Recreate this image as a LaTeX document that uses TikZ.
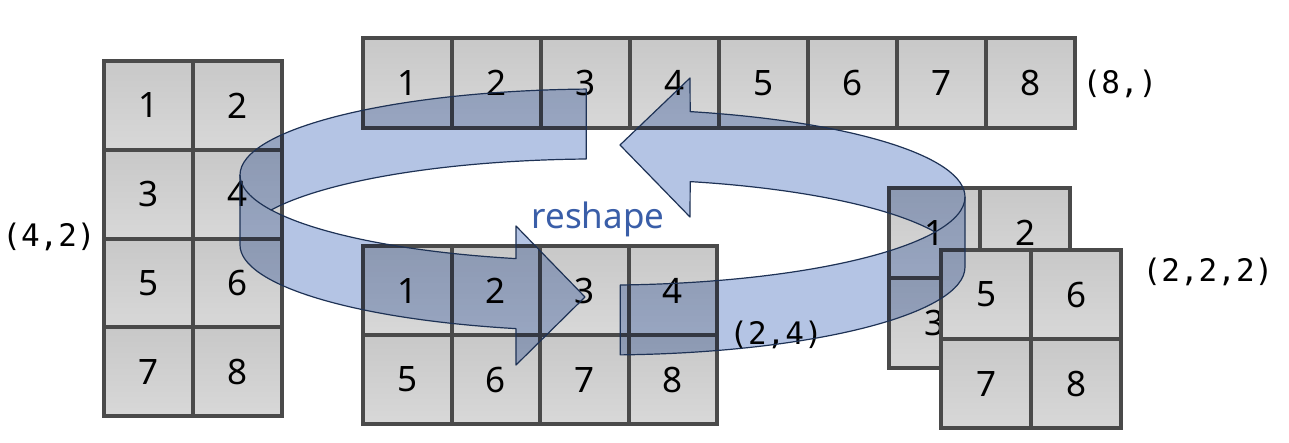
\documentclass[tikz,border=0pt]{standalone}
\usepackage{fontspec}
\setmainfont{Noto Sans}
\newfontfamily\labelfont{DejaVu Sans Mono}
\definecolor{cellborder}{RGB}{74,74,74}
\definecolor{celltop}{RGB}{200,200,200}
\definecolor{cellbot}{RGB}{216,216,216}
\definecolor{ribbon}{RGB}{180,196,228}
\definecolor{ribbonedge}{RGB}{30,50,85}
\definecolor{reshapeblue}{RGB}{58,94,168}
\newcommand\ribbonApath{(600,175) ++(267.8:360 and 86)
 arc[start angle=267.8, end angle=180, x radius=360, y radius=86]
 -- ++(0,70)
 arc[start angle=180, end angle=103.5, x radius=360, y radius=86]
 -- (516,365) -- (585,297) -- (516,226) -- (516,258.6)
 arc[start angle=103.5, end angle=156, x radius=360, y radius=86]
 arc[start angle=204, end angle=267.8, x radius=360, y radius=86]
 -- cycle}
\newcommand\ribbonBpath{(602.5,267) ++(87.2:362.5 and 88)
 arc[start angle=87.2, end angle=0, x radius=362.5, y radius=88]
 -- ++(0,-70)
 arc[start angle=0, end angle=-76, x radius=362.5, y radius=88]
 -- (690,78) -- (620,145) -- (690,217) -- (690.2,181.6)
 arc[start angle=-76, end angle=-23.4, x radius=362.5, y radius=88]
 arc[start angle=23.4, end angle=87.2, x radius=362.5, y radius=88]
 -- cycle}
\begin{document}
\begin{tikzpicture}[x=1pt,y=-1pt,
  cell/.style={draw=cellborder, line width=4pt, top color=celltop, bottom color=cellbot,
    minimum width=89pt, minimum height=89pt, inner sep=0pt,
    font=\fontsize{35}{35}\selectfont, text=black},
  shapelbl/.style={font=\labelfont\fontsize{31}{31}\selectfont, text=black},
  ribbonline/.style={draw=ribbonedge, line width=1.2pt, line join=round}]
\fill[white] (0,0) rectangle (1289,442);
\useasboundingbox (0,0) rectangle (1289,442);
% right 3D array: back layer then front layer
\foreach \i in {1,...,4}{
  \pgfmathtruncatemacro\c{mod(\i-1,2)}
  \pgfmathtruncatemacro\r{(\i-1)/2}
  \node[cell, minimum width=90.5pt, minimum height=90pt] (d\i) at ({934.5+90.5*\c},{233+90*\r}) {\i};
}
\foreach \i in {5,...,8}{
  \pgfmathtruncatemacro\c{mod(\i-5,2)}
  \pgfmathtruncatemacro\r{(\i-5)/2}
  \node[cell, minimum width=90pt, minimum height=89pt] (d\i) at ({986+90*\c},{294.5+89*\r}) {\i};
}
% left (4,2)
\foreach \i in {1,...,8}{
  \pgfmathtruncatemacro\c{mod(\i-1,2)}
  \pgfmathtruncatemacro\r{(\i-1)/2}
  \node[cell, minimum height=88.75pt] (a\i) at ({148.5+89*\c},{105.5+88.75*\r}) {\i};
}
% top (8,)
\foreach \i in {1,...,8}{
  \node[cell, minimum height=90pt] (b\i) at ({407.5+89*(\i-1)},83) {\i};
}
% middle (2,4)
\foreach \i in {1,...,8}{
  \pgfmathtruncatemacro\c{mod(\i-1,4)}
  \pgfmathtruncatemacro\r{(\i-1)/4}
  \node[cell, minimum width=88.5pt] (c\i) at ({407.25+88.5*\c},{290.5+89*\r}) {\i};
}
% labels
\node[shapelbl] (l42) at (49,237) {(4,2)};
\node[shapelbl] (l8) at (1120,84) {(8,)};
\node[shapelbl] (l24) at (776,335) {(2,4)};
\node[shapelbl] (l222) at (1208,272) {(2,2,2)};
\node[font=\fontsize{35}{35}\selectfont, text=reshapeblue] (rs) at (598,219) {reshape};
% ribbon arrows
\begin{scope}[blend mode=multiply]
  \fill[ribbon] \ribbonApath;
  \fill[ribbon] \ribbonBpath;
\end{scope}
\draw[ribbonline] \ribbonApath;
\draw[ribbonline] \ribbonBpath;
\draw[ribbonline] (600,175) ++(156:360 and 86) arc[start angle=156, end angle=180, x radius=360, y radius=86];
\draw[ribbonline] (602.5,197) ++(23.4:362.5 and 88) arc[start angle=23.4, end angle=0, x radius=362.5, y radius=88];
\end{tikzpicture}
\end{document}
